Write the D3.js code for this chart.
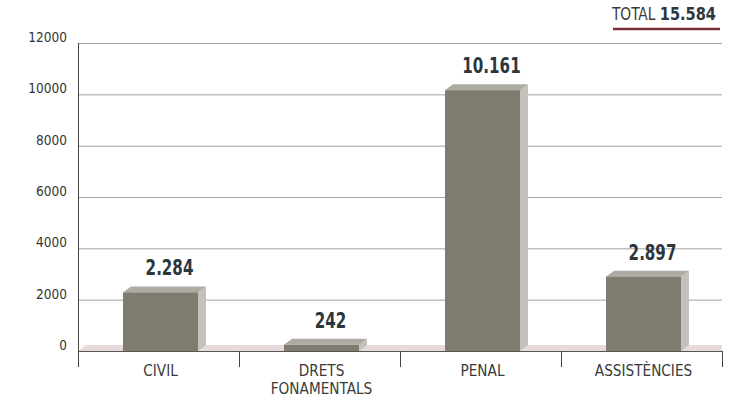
<html>
<head>
<meta charset="utf-8">
<script src="https://d3js.org/d3.v7.min.js"></script>
<style>
  body { margin: 0; background: #fff; }
  text { font-family: "DejaVu Sans Condensed", "DejaVu Sans", sans-serif; font-stretch: condensed; }
</style>
</head>
<body>
<svg id="chart" width="750" height="405"></svg>
<script>
// data
const categories = [["CIVIL"], ["DRETS", "FONAMENTALS"], ["PENAL"], ["ASSISTÈNCIES"]];
const values = [2284, 242, 10161, 2897];
const valueLabels = ["2.284", "242", "10.161", "2.897"];
const yTicks = [0, 2000, 4000, 6000, 8000, 10000, 12000];
const totalLabel = "15.584";

let svg = d3.select("svg#chart");
let margin = {"top": 43, "right": 28, "bottom": 54, "left": 78};
let width = 750 - margin.left - margin.right;
let height = 405 - margin.top - margin.bottom;

let xScale = d3.scaleBand().domain(d3.range(categories.length)).range([0, width]);
let yScale = d3.scaleLinear().domain([0, 12000]).range([height, 0]);

let g = svg.append("g").attr("transform", "translate(" + margin.left + "," + margin.top + ")");

// gridlines
g.selectAll("line.grid").data(yTicks.filter(d => d > 0)).enter().append("line")
  .attr("x1", 0).attr("x2", width)
  .attr("y1", d => yScale(d) + 0.5).attr("y2", d => yScale(d) + 0.5)
  .style("stroke", "#a5a5a5");

// y tick labels
g.selectAll("text.ytick").data(yTicks).enter().append("text")
  .attr("x", -11).attr("y", d => yScale(d) - 1)
  .attr("text-anchor", "end")
  .style("font-size", "13.5px").style("fill", "#333")
  .text(d => d);

// floor strip
const depthX = 8, depthY = 6;
g.append("path")
  .attr("d", "M0," + height + "L" + depthX + "," + (height - depthY) + "L" + width + "," + (height - depthY) + "L" + width + "," + height + "Z")
  .style("fill", "#e6dada");

// bars
const barW = 75;
values.forEach(function(v, i) {
  let x0 = xScale(i) + xScale.bandwidth() / 2 - barW / 2 + 2;
  let yTop = yScale(v);
  // side
  g.append("path")
    .attr("d", "M" + (x0 + barW) + "," + yTop + "L" + (x0 + barW + depthX) + "," + (yTop - depthY) +
      "L" + (x0 + barW + depthX) + "," + (height - depthY) + "L" + (x0 + barW) + "," + height + "Z")
    .style("fill", "#c4c1ba");
  // top
  g.append("path")
    .attr("d", "M" + x0 + "," + yTop + "L" + (x0 + depthX) + "," + (yTop - depthY) +
      "L" + (x0 + barW + depthX) + "," + (yTop - depthY) + "L" + (x0 + barW) + "," + yTop + "Z")
    .style("fill", "#aeaba3");
  // front
  g.append("rect")
    .attr("x", x0).attr("y", yTop)
    .attr("width", barW).attr("height", height - yTop)
    .style("fill", "#7f7b6f");
  // value label (narrowed to look condensed)
  g.append("text")
    .attr("transform", "translate(" + (x0 + barW / 2 + 9) + "," + (yTop - depthY - 11) + ") scale(0.8,1)")
    .attr("text-anchor", "middle")
    .style("font-size", "21px").style("font-weight", "bold").style("fill", "#2b373d")
    .text(valueLabels[i]);
});

// axes lines
g.append("line").attr("x1", 0.5).attr("x2", 0.5).attr("y1", 0).attr("y2", height + 16)
  .style("stroke", "#444");
g.append("line").attr("x1", 0).attr("x2", width).attr("y1", height + 0.5).attr("y2", height + 0.5)
  .style("stroke", "#555");
for (let i = 1; i <= categories.length; i++) {
  let xx = Math.round(xScale.step() * i) + 0.5;
  g.append("line").attr("x1", xx).attr("x2", xx).attr("y1", height).attr("y2", height + 16)
    .style("stroke", "#444");
}

// category labels
categories.forEach(function(lines, i) {
  let cx = xScale(i) + xScale.bandwidth() / 2 + 2;
  let t = g.append("text")
    .attr("transform", "translate(" + cx + "," + (height + 25) + ") scale(0.92,1)")
    .attr("text-anchor", "middle")
    .style("font-size", "16.5px").style("fill", "#3a3a3a");
  lines.forEach(function(l, j) {
    t.append("tspan").attr("x", 0).attr("y", j * 18).text(l);
  });
});

// total
let tot = svg.append("text").attr("transform", "translate(716,20) scale(0.9,1)").attr("text-anchor", "end")
  .style("fill", "#2b373d");
tot.append("tspan").style("font-size", "17px").style("fill", "#3a3a3a").text("TOTAL ");
tot.append("tspan").style("font-size", "18px").style("font-weight", "bold").text(totalLabel);
svg.append("line").attr("x1", 613).attr("x2", 720).attr("y1", 29).attr("y2", 29)
  .style("stroke", "#7b2d36").style("stroke-width", 2.5);
</script>
</body>
</html>
